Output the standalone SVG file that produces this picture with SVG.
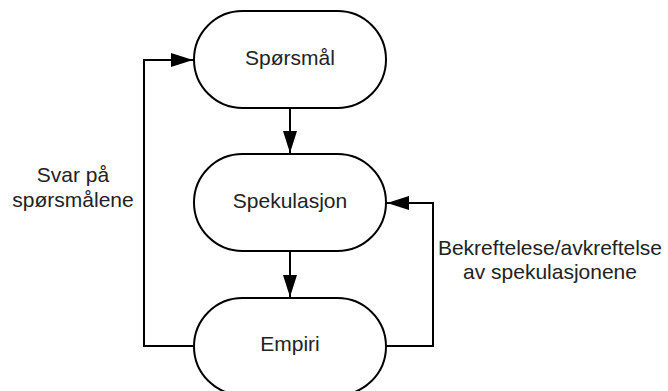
<svg xmlns="http://www.w3.org/2000/svg" width="668" height="391" viewBox="0 0 668 391">
  <defs>
    <marker id="arrow" markerWidth="22" markerHeight="14" refX="22" refY="7" orient="auto" markerUnits="userSpaceOnUse">
      <path d="M0,0 L22,7 L0,14 Z" fill="#000"/>
    </marker>
    <style>
      .node rect { fill: #fff; stroke: #000; stroke-width: 2; }
      .node text, .label { font-family: "Liberation Sans", Arial, sans-serif; font-size: 21px; fill: #222; text-anchor: middle; }
      .edge { fill: none; stroke: #000; stroke-width: 2; }
    </style>
  </defs>
  <rect width="668" height="391" fill="#fff"/>

  <g id="connectors">
    <path class="edge" d="M290,108 L290,153" marker-end="url(#arrow)"/>
    <path class="edge" d="M290,251 L290,297" marker-end="url(#arrow)"/>
    <path class="edge" d="M193,346 L144,346 L144,60 L193,60" marker-end="url(#arrow)"/>
    <path class="edge" d="M386,346 L433,346 L433,203 L387,203" marker-end="url(#arrow)"/>
  </g>

  <g id="node-sporsmal" class="node">
    <rect x="194" y="11" width="192" height="97" rx="48.5"/>
    <text x="290" y="65">Spørsmål</text>
  </g>
  <g id="node-spekulasjon" class="node">
    <rect x="194" y="154" width="192" height="97" rx="48.5"/>
    <text x="290" y="208">Spekulasjon</text>
  </g>
  <g id="node-empiri" class="node">
    <rect x="194" y="298" width="192" height="97" rx="48.5"/>
    <text x="290" y="351">Empiri</text>
  </g>

  <g id="labels">
    <text class="label" x="73" y="182">Svar på</text>
    <text class="label" x="73" y="207">spørsmålene</text>
    <text class="label" x="550" y="255">Bekreftelese/avkreftelse</text>
    <text class="label" x="550" y="279">av spekulasjonene</text>
  </g>
</svg>
